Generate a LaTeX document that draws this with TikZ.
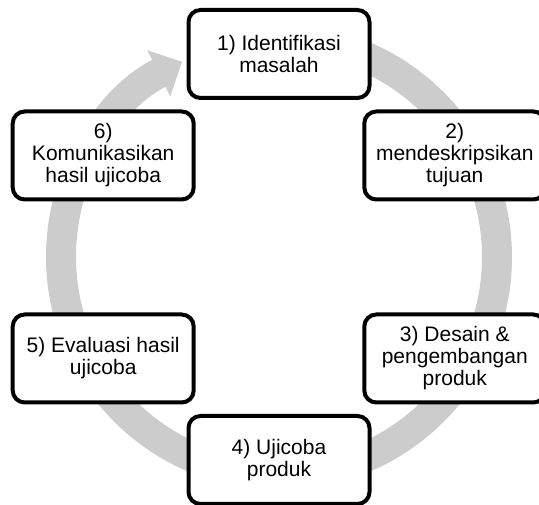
\documentclass[tikz,border=0pt]{standalone}
\usepackage{fontspec}
\setmainfont{Liberation Sans}
\usetikzlibrary{arrows.meta}
\definecolor{ringgray}{RGB}{204,204,204}
\tikzset{stage/.style={draw,line width=4pt,rounded corners=12pt,fill=white,align=center,
    minimum width=181pt,minimum height=88pt,inner sep=2pt,font=\fontsize{21}{22}\selectfont}}

\begin{document}
\begin{tikzpicture}[x=1pt,y=1pt]
        \useasboundingbox (0,0) rectangle (539,505);
        \coordinate (centre) at (279,248);
        \draw[ringgray,line width=30pt,-{Triangle[length=26pt,width=50pt]}] (centre) ++(90:218) arc[start angle=90,end angle=-243.6,radius=218];
        \begin{scope}[shift={(centre)}]
        \node[stage] (masalah) at (90:203) {1) Identifikasi\\masalah};
        \node[stage] (tujuan) at (30:203) {2)\\mendeskripsikan\\tujuan};
        \node[stage] (desain) at (-30:203) {3) Desain \&\\pengembangan\\produk};
        \node[stage] (ujicoba) at (-90:203) {4) Ujicoba\\produk};
        \node[stage] (evaluasi) at (-150:203) {5) Evaluasi hasil\\ujicoba};
        \node[stage] (komunikasi) at (150:203) {6)\\Komunikasikan\\hasil ujicoba};
        \end{scope}
    \end{tikzpicture}
\end{document}
